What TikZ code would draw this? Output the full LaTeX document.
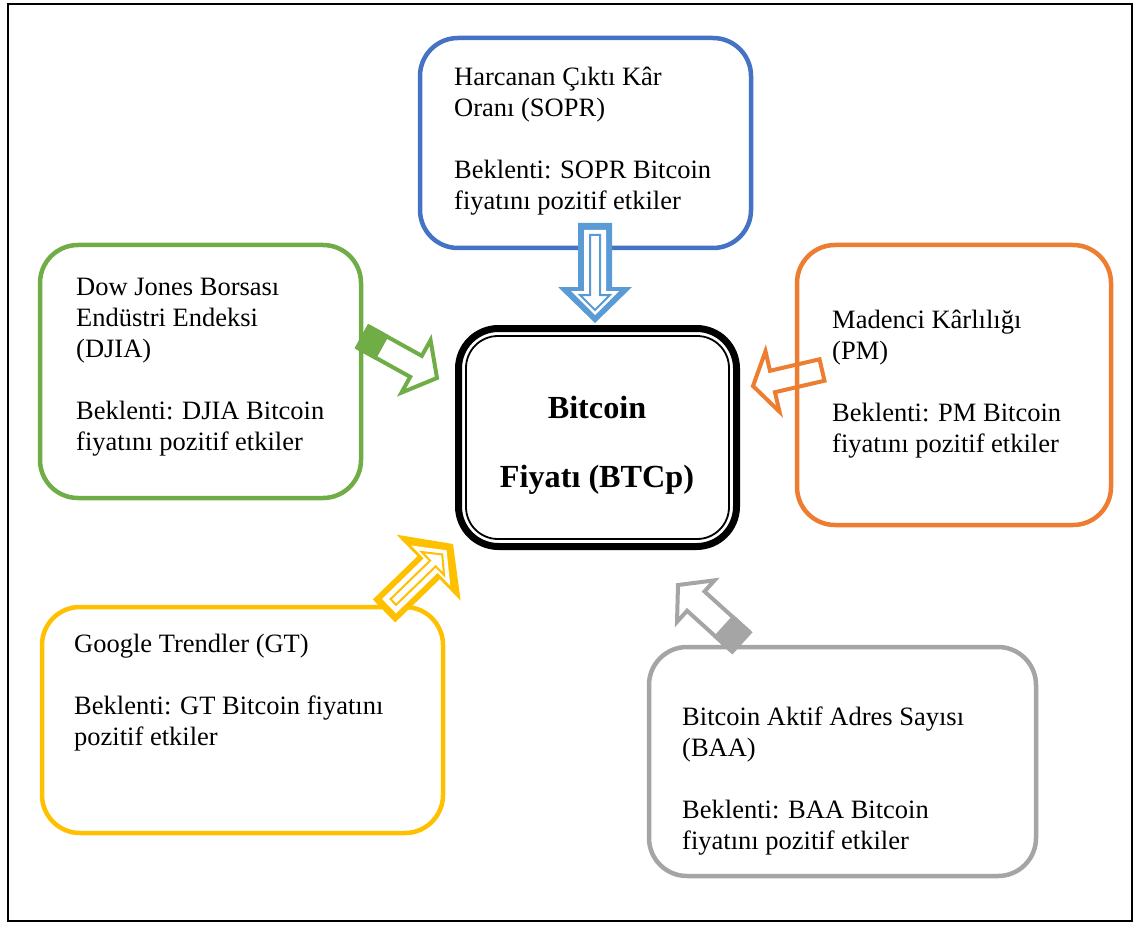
\documentclass[tikz,border=0pt]{standalone}
\usepackage{fontspec}
\setmainfont{Liberation Serif}
\usetikzlibrary{calc}
\definecolor{soprblue}{HTML}{4472C4}
\definecolor{arrowblue}{HTML}{5B9BD5}
\definecolor{djiagreen}{HTML}{70AD47}
\definecolor{pmorange}{HTML}{ED7D31}
\definecolor{gtyellow}{HTML}{FFC000}
\definecolor{baagray}{HTML}{A5A5A5}

% block arrow from tail (#1) to tip (#2): shaft half width #3, head half width #4, head length #5, options #6
\newcommand{\blockarrow}[6]{%
  \coordinate (#1-hb) at ($(#2)!#5!(#1)$);
  \path[#6] ($(#1)!#3!90:(#2)$) -- ($(#1-hb)!#3!-90:(#1)$) -- ($(#1-hb)!#4!-90:(#1)$) -- (#2)
    -- ($(#1-hb)!#4!90:(#1)$) -- ($(#1-hb)!#3!90:(#1)$) -- ($(#1)!#3!-90:(#2)$) -- cycle;
}
% solid piece at the tail: tail (#1), tip (#2), half width #3, length #4, colour #5
\newcommand{\arrowtail}[5]{%
  \coordinate (#1-ts) at ($(#1)!#4!(#2)$);
  \fill[#5] ($(#1)!#3!90:(#2)$) -- ($(#1-ts)!#3!-90:(#1)$) -- ($(#1-ts)!#3!90:(#1)$) -- ($(#1)!#3!-90:(#2)$) -- cycle;
}

\begin{document}
\begin{tikzpicture}[
    x=1pt, y=-1pt,
    box/.style={rectangle, draw, line width=4.5pt, rounded corners=38pt, outer sep=0pt, inner sep=0pt},
    txt/.style={anchor=base west, align=left, inner sep=0pt, font=\fontsize{26.5}{31}\selectfont},
    outline/.style={draw=#1, line width=4pt, line join=miter},
]

% === Frame ===
\useasboundingbox (0,0) rectangle (1134,925);
\draw[line width=1.5pt] (8,4) rectangle (1132,921);

% === Boxes ===
\node[box, draw=soprblue, minimum width=331pt, minimum height=210pt] (sopr) at (585.5,143) {};
\node[box, draw=djiagreen, minimum width=321pt, minimum height=253pt] (djia) at (200.5,371.5) {};
\node[box, draw=pmorange, minimum width=314pt, minimum height=280pt] (pm) at (954,385) {};
\node[box, draw=gtyellow, minimum width=401pt, minimum height=226pt] (gt) at (242.5,720) {};
\node[box, draw=baagray, minimum width=387pt, minimum height=229pt] (baa) at (842.5,761.5) {};

% center box with double border
\node[box, draw=black, line width=7pt, rounded corners=40pt, minimum width=278pt, minimum height=218pt] (btc) at (597.5,437.5) {};
\draw[line width=1.8pt, rounded corners=32pt] ([shift={(7.5,7.5)}]btc.north west) rectangle ([shift={(-7.5,-7.5)}]btc.south east);

% === Texts (placed at the baseline of their last line) ===
\node[txt] (sopr text) at (454,210) {Harcanan Çıktı Kâr\\Oranı (SOPR)\\[31pt]Beklenti: SOPR Bitcoin\\fiyatını pozitif etkiler};
\node[txt] (djia text) at (76,450) {Dow Jones Borsası\\Endüstri Endeksi\\(DJIA)\\[31pt]Beklenti: DJIA Bitcoin\\fiyatını pozitif etkiler};
\node[txt] (pm text) at (832,452) {Madenci Kârlılığı\\(PM)\\[31pt]Beklenti: PM Bitcoin\\fiyatını pozitif etkiler};
\node[txt] (gt text) at (74,745) {Google Trendler (GT)\\[31pt]Beklenti: GT Bitcoin fiyatını\\pozitif etkiler};
\node[txt] (baa text) at (682,849) {Bitcoin Aktif Adres Sayısı\\(BAA)\\[31pt]Beklenti: BAA Bitcoin\\fiyatını pozitif etkiler};
\node[anchor=base, align=center, inner sep=0pt, font=\bfseries\fontsize{32.2}{69}\selectfont] (btc text) at (597,487) {Bitcoin\\Fiyatı (BTCp)};

% === Arrows ===
% SOPR (striped)
\coordinate (sopr-t) at (595,223);
\coordinate (sopr-p) at (595,323);
\blockarrow{sopr-t}{sopr-p}{17pt}{37pt}{36pt}{fill=arrowblue}
\coordinate (sopr-t2) at (595,230);
\coordinate (sopr-p2) at (595,315);
\blockarrow{sopr-t2}{sopr-p2}{11pt}{24pt}{24pt}{fill=white}
\coordinate (sopr-t3) at (595,235);
\coordinate (sopr-p3) at (595,310);
\blockarrow{sopr-t3}{sopr-p3}{5pt}{15pt}{15pt}{draw=arrowblue, line width=2pt}

% DJIA
\coordinate (djia-t) at (363,337);
\coordinate (djia-p) at (437,378);
\blockarrow{djia-t}{djia-p}{12pt}{30pt}{24pt}{outline=djiagreen}
\arrowtail{djia-t}{djia-p}{14pt}{22pt}{djiagreen}

% PM
\coordinate (pm-t) at (822,370);
\coordinate (pm-p) at (753,386);
\blockarrow{pm-t}{pm-p}{11pt}{31pt}{20pt}{outline=pmorange}

% GT (striped)
\coordinate (gt-t) at (384,611);
\coordinate (gt-p) at (453,544);
\blockarrow{gt-t}{gt-p}{16pt}{46pt}{34pt}{fill=gtyellow}
\coordinate (gt-t2) at ($(gt-t)!7pt!(gt-p)$);
\coordinate (gt-p2) at ($(gt-p)!9pt!(gt-t)$);
\blockarrow{gt-t2}{gt-p2}{10pt}{28pt}{22pt}{fill=white}
\coordinate (gt-t3) at ($(gt-t)!13pt!(gt-p)$);
\coordinate (gt-p3) at ($(gt-p)!15pt!(gt-t)$);
\blockarrow{gt-t3}{gt-p3}{4pt}{16pt}{13pt}{draw=gtyellow, line width=2pt}

% BAA
\coordinate (baa-t) at (741,642);
\coordinate (baa-p) at (678,585);
\blockarrow{baa-t}{baa-p}{13pt}{28pt}{24pt}{outline=baagray}
\arrowtail{baa-t}{baa-p}{15pt}{24pt}{baagray}

\end{tikzpicture}
\end{document}
